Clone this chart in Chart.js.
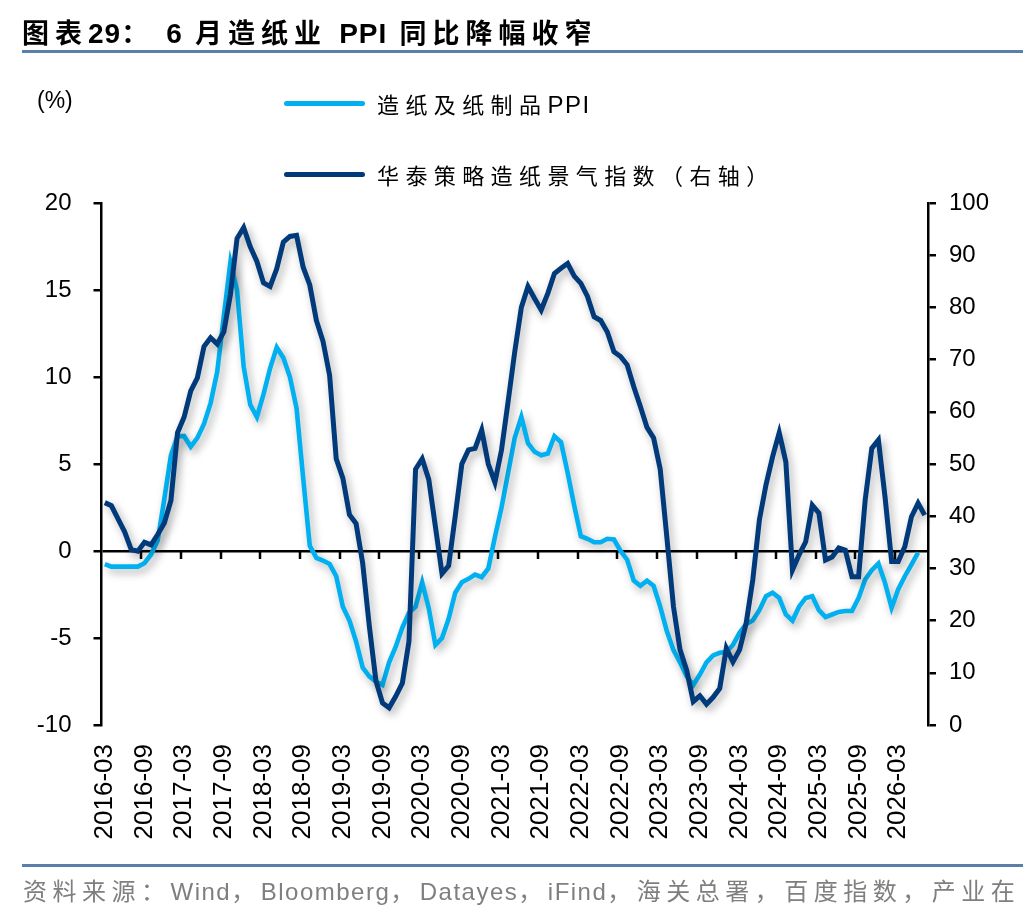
<!DOCTYPE html>
<html lang="zh-CN">
<head>
    <meta charset="UTF-8">
    <title>图表29：6月造纸业PPI同比降幅收窄</title>
    <script src="https://cdn.jsdelivr.net/npm/chart.js"></script>
    <style>
        html, body { margin: 0; padding: 0; background: #fff; overflow: hidden; }
        body { width: 1036px; height: 916px; position: relative; font-family: "Liberation Sans", Arial, "Noto Sans CJK SC", sans-serif; }
        #wrap { position: absolute; left: 0; top: 0; width: 1036px; height: 916px; }
        .abs { position: absolute; white-space: nowrap; }
        .lat { font-family: "Liberation Sans", Arial, sans-serif; }
        .title { left: 22px; top: 13px; line-height: 38px; font-size: 27px; font-weight: bold; letter-spacing: 6px; color: #000; font-family: "Noto Sans CJK SC", sans-serif; }
        .title .lat { letter-spacing: 1px; font-size: 28px; }
        .rule { left: 22px; width: 1001px; height: 3px; background: #5b7fab; }
        .unit { left: 37px; top: 85px; line-height: 30px; font-size: 23px; color: #000; }
        .leg-line { left: 284px; width: 81px; height: 5px; border-radius: 3px; }
        .leg-text { left: 377px; line-height: 30px; font-size: 22px; letter-spacing: 6.4px; color: #000; font-family: "Noto Sans CJK SC", sans-serif; }
        .leg-text .lat { font-size: 24px; letter-spacing: 1.5px; }
        .source { left: 23px; top: 875px; line-height: 30px; font-size: 24px; letter-spacing: 5.5px; color: #7f7f7f; font-family: "Noto Sans CJK SC", sans-serif; }
        .source .lat { letter-spacing: 1.5px; }
    </style>
</head>
<body>
    <div id="wrap"><canvas id="ppiChart"></canvas></div>

    <div class="abs title">图表<span class="lat">29</span>：&nbsp;<span class="lat">6</span> 月造纸业 <span class="lat">PPI</span> 同比降幅收窄</div>
    <div class="abs rule" style="top: 50px;"></div>

    <div class="abs unit">(%)</div>
    <div class="abs leg-line" style="top: 101px; background: #00b0f0;"></div>
    <div class="abs leg-text" style="top: 88px;">造纸及纸制品<span class="lat">PPI</span></div>
    <div class="abs leg-line" style="top: 172px; background: #003a7a;"></div>
    <div class="abs leg-text" style="top: 159px;">华泰策略造纸景气指数（右轴）</div>

    <div class="abs rule" style="top: 864px;"></div>
    <div class="abs source">资料来源：<span class="lat">Wind</span>，<span class="lat">Bloomberg</span>，<span class="lat">Datayes</span>，<span class="lat">iFind</span>，海关总署，百度指数，产业在</div>

    <script>
        // monthly categories, 2016-03 .. 2026-07
        const startYear = 2016, startMonth = 3, monthCount = 125;
        const labelEvery = 6;

        const months = [];
        for (let i = 0; i < monthCount; i++) {
            let m = startMonth - 1 + i;
            let y = startYear + Math.floor(m / 12);
            months.push(y + "-" + String(m % 12 + 1).padStart(2, "0"));
        }

        // 造纸及纸制品PPI 同比 (%), left axis
        const paperPPI = [
            -0.75, -0.9, -0.9, -0.9, -0.9, -0.9, -0.7, -0.2, 0.6, 3.0,
            5.5, 6.6, 6.6, 6.0, 6.5, 7.3, 8.5, 10.3, 13.5, 16.6,
            15.0, 10.6, 8.4, 7.7, 9.0, 10.5, 11.7, 11.1, 10.0, 8.2,
            4.2, 0.3, -0.4, -0.55, -0.75, -1.45, -3.2, -4.0, -5.2, -6.7,
            -7.2, -7.5, -7.7, -6.4, -5.5, -4.4, -3.55, -3.2, -1.8, -3.3,
            -5.4, -5.0, -3.9, -2.4, -1.8, -1.6, -1.35, -1.5, -1.0, 0.8,
            2.5, 4.5, 6.5, 7.7, 6.2, 5.7, 5.5, 5.6, 6.6, 6.25,
            4.5, 2.6, 0.85, 0.7, 0.5, 0.5, 0.7, 0.66, 0.0, -0.5,
            -1.7, -2.0, -1.7, -2.0, -3.2, -4.6, -5.7, -6.4, -7.2, -7.7,
            -7.1, -6.4, -6.0, -5.85, -5.8, -5.4, -4.7, -4.2, -4.0, -3.4,
            -2.6, -2.4, -2.7, -3.65, -4.0, -3.2, -2.7, -2.6, -3.4, -3.8,
            -3.65, -3.5, -3.45, -3.45, -2.7, -1.64, -1.1, -0.72, -1.83, -3.26,
            -2.2, -1.45, -0.78, -0.1
        ];

        // 华泰策略造纸景气指数, right axis
        const paperIndex = [
            42.6, 42, 39.5, 37, 33.6, 33.3, 35, 34.5, 36.5, 38.7,
            43, 56, 59, 64, 66.5, 72.5, 74.2, 73, 75.3, 82.5,
            93.2, 95.3, 91.6, 88.8, 84.7, 84, 87.4, 92.5, 93.6, 93.8,
            87.7, 84.3, 77.5, 73.5, 67, 51, 47.3, 40.3, 38.6, 31,
            19, 8.5, 4.2, 3.3, 5.5, 8, 16, 49, 51, 47,
            38, 29, 30.5, 40, 50, 52.7, 53, 56.5, 50, 46.5,
            52.7, 62, 71.5, 80, 84, 81.7, 79.5, 82.7, 86.5, 87.5,
            88.4, 86, 84.6, 82.1, 78.2, 77.5, 75.3, 71.5, 70.6, 69,
            64.8, 61, 57, 55, 49, 36, 22.7, 14.4, 10.5, 4.5,
            5.6, 4.0, 5.3, 7.0, 14.7, 12.1, 14.4, 19.5, 27.8, 39.3,
            46, 51.4, 56, 50.4, 29.7, 32.6, 35.1, 42.1, 40.6, 31.6,
            32.2, 33.9, 33.5, 28.4, 28.4, 43.1, 53, 54.6, 43.7, 31.3,
            31.3, 34.2, 39.9, 42.5, 40.2
        ];

        const yFont = { family: "'Liberation Sans', Arial, sans-serif", size: 24 };
        const xFont = { family: "'Liberation Sans', Arial, sans-serif", size: 26 };

        // soft drop shadow under each line
        const lineShadow = {
            id: 'lineShadow',
            beforeDatasetDraw(chart) {
                let ctx = chart.ctx;
                ctx.save();
                ctx.shadowColor = 'rgba(0, 0, 0, 0.33)';
                ctx.shadowBlur = 8;
                ctx.shadowOffsetX = 3;
                ctx.shadowOffsetY = 4;
            },
            afterDatasetDraw(chart) {
                chart.ctx.restore();
            }
        };

        // small tick marks hanging from the zero line
        const zeroTicks = {
            id: 'zeroTicks',
            afterDraw(chart) {
                let x = chart.scales.x, y = chart.scales.y, ctx = chart.ctx;
                let y0 = y.getPixelForValue(0);
                let half = (x.getPixelForValue(1) - x.getPixelForValue(0)) / 2;
                ctx.save();
                ctx.strokeStyle = '#000';
                ctx.lineWidth = 2.5;
                ctx.beginPath();
                for (let i = labelEvery; i < months.length; i += labelEvery) {
                    let px = Math.round(x.getPixelForValue(i) - half);
                    ctx.moveTo(px, y0);
                    ctx.lineTo(px, y0 + 8);
                }
                ctx.stroke();
                ctx.restore();
            }
        };

        new Chart(document.getElementById('ppiChart'), {
            type: 'line',
            data: {
                labels: months,
                datasets: [
                    {
                        label: '造纸及纸制品PPI',
                        data: paperPPI,
                        yAxisID: 'y',
                        borderColor: '#00b0f0',
                        borderWidth: 4.6,
                        pointRadius: 0,
                        tension: 0,
                        order: 2
                    },
                    {
                        label: '华泰策略造纸景气指数（右轴）',
                        data: paperIndex,
                        yAxisID: 'y2',
                        borderColor: '#003a7a',
                        borderWidth: 5,
                        pointRadius: 0,
                        tension: 0,
                        order: 1
                    }
                ]
            },
            options: {
                responsive: true,
                maintainAspectRatio: false,
                animation: false,
                layout: { padding: { top: 203, left: 0, right: 0, bottom: 0 } },
                plugins: {
                    legend: { display: false },
                    tooltip: { enabled: false }
                },
                scales: {
                    x: {
                        offset: true,
                        grid: { display: false, drawTicks: false },
                        border: { display: false },
                        ticks: {
                            autoSkip: false,
                            minRotation: 90,
                            maxRotation: 90,
                            padding: 19,
                            color: '#000',
                            font: xFont,
                            callback: function (val, idx) {
                                return idx % labelEvery === 0 ? months[idx] : '';
                            }
                        },
                        afterFit: s => { s.height = 191; }
                    },
                    y: {
                        position: 'left',
                        min: -10,
                        max: 20,
                        ticks: { stepSize: 5, padding: 22, color: '#000', font: yFont },
                        grid: {
                            color: c => c.tick && c.tick.value === 0 ? '#000' : 'rgba(0,0,0,0)',
                            lineWidth: 2.5,
                            tickColor: '#000',
                            tickLength: 8
                        },
                        border: { color: '#000', width: 2.5 },
                        afterFit: s => { s.width = 101.5; }
                    },
                    y2: {
                        position: 'right',
                        min: 0,
                        max: 100,
                        ticks: { stepSize: 10, padding: 13, color: '#000', font: yFont },
                        grid: {
                            drawOnChartArea: false,
                            lineWidth: 2.5,
                            tickColor: '#000',
                            tickLength: 8
                        },
                        border: { color: '#000', width: 2.5 },
                        afterFit: s => { s.width = 108; }
                    }
                }
            },
            plugins: [lineShadow, zeroTicks]
        });
    </script>
</body>
</html>
